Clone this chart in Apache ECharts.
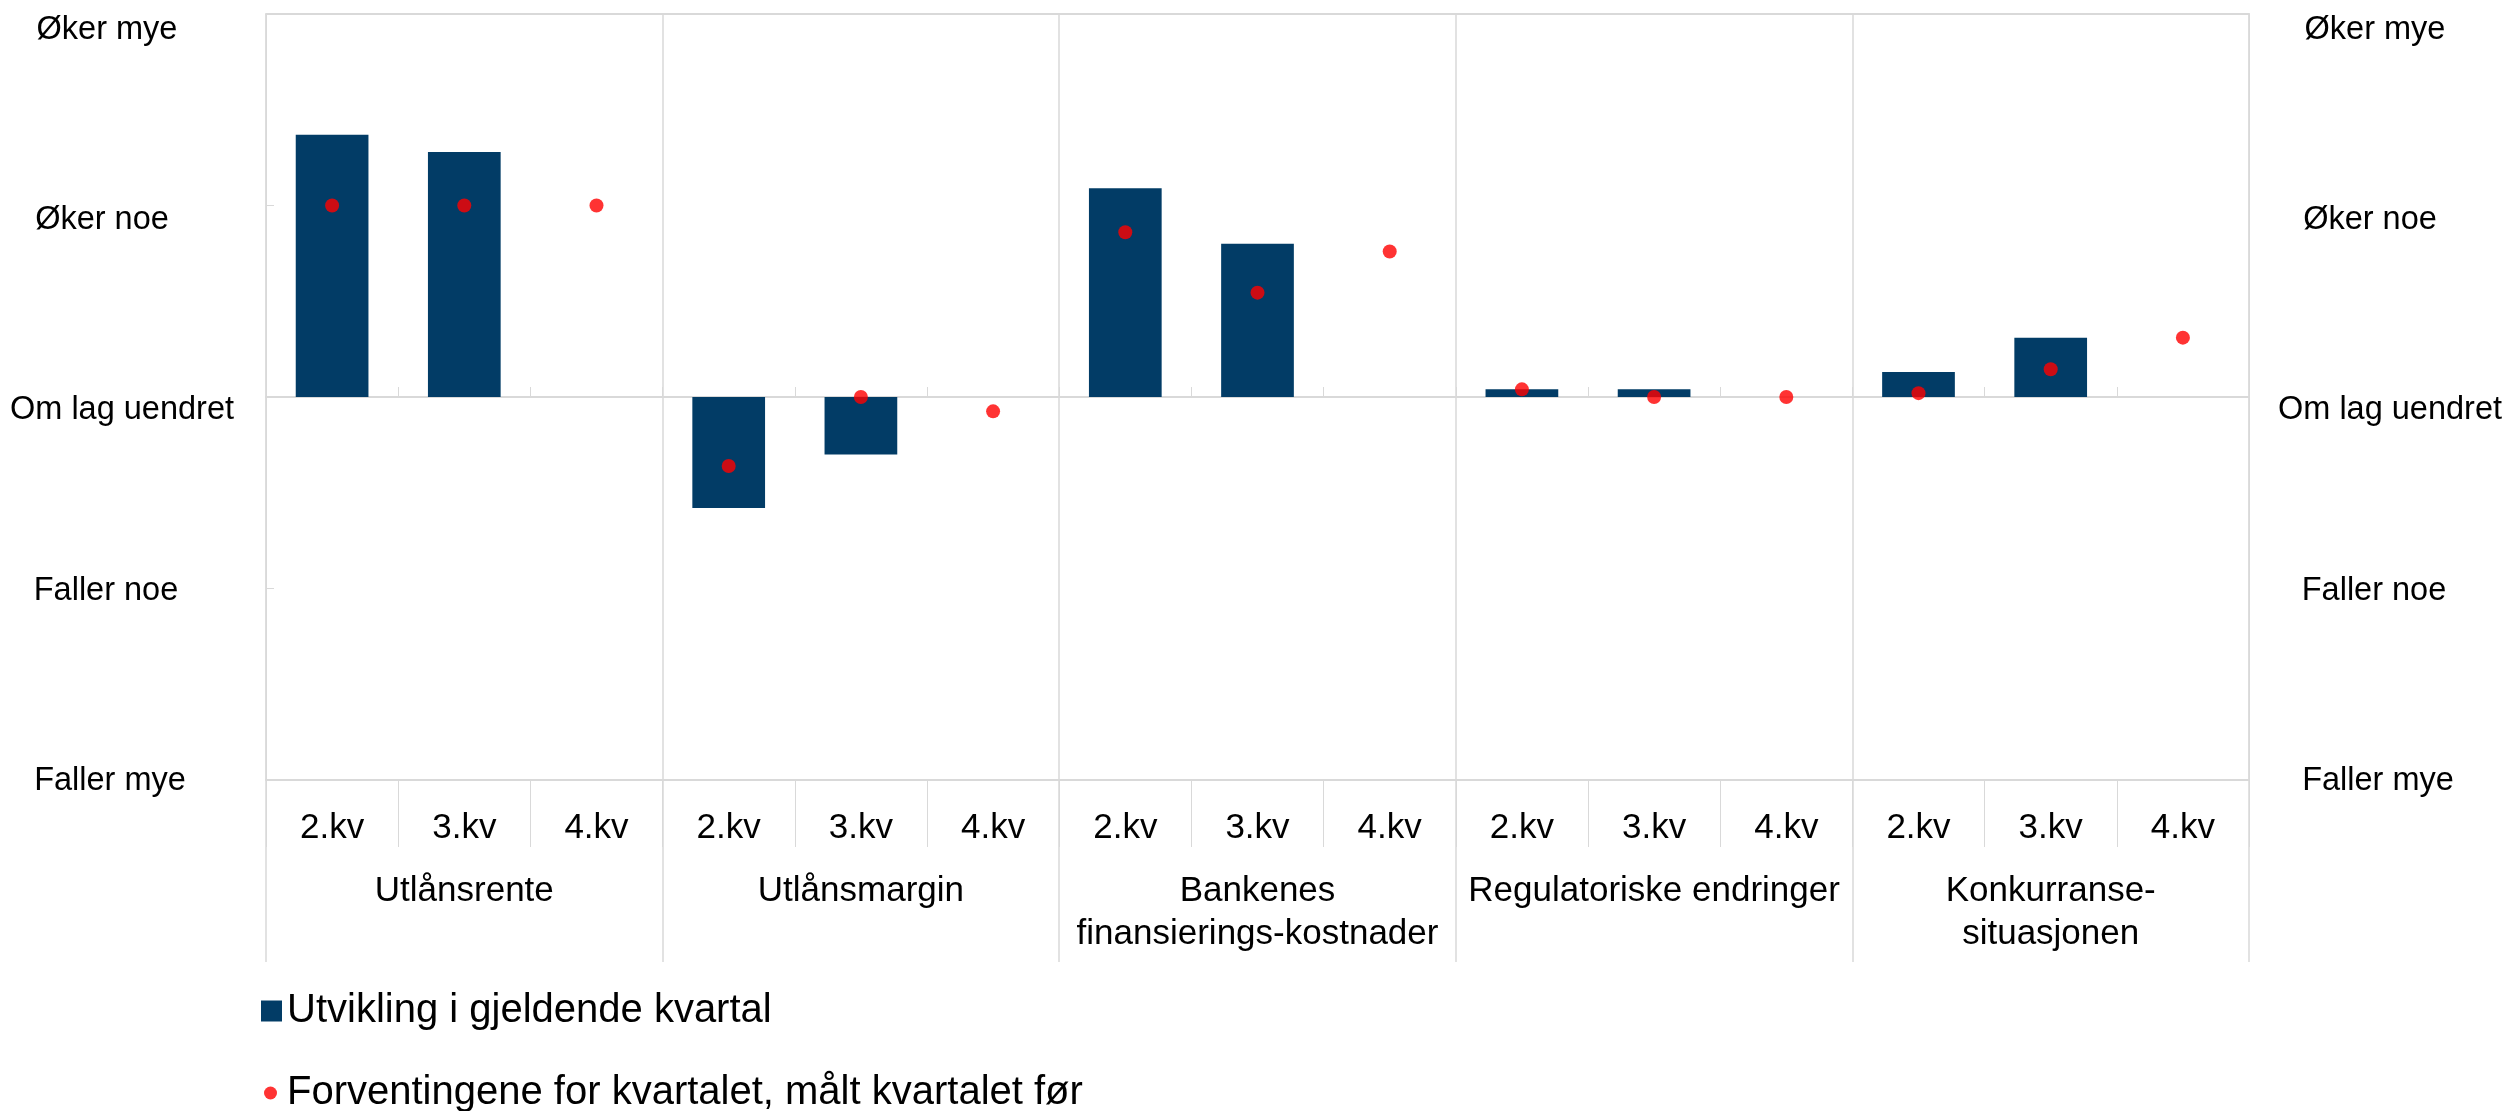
<!DOCTYPE html>
<html><head><meta charset="utf-8">
<script src="https://cdn.jsdelivr.net/npm/echarts@6/dist/echarts.min.js"></script>
<style>html,body{margin:0;padding:0;background:#fff}#c{width:2509px;height:1111px}</style>
</head><body><div id="c"></div>
<script>
// ---- data ----
const quarters = ['2.kv','3.kv','4.kv','2.kv','3.kv','4.kv','2.kv','3.kv','4.kv','2.kv','3.kv','4.kv','2.kv','3.kv','4.kv'];
const groups = ['Utlånsrente','Utlånsmargin','Bankenes\nfinansierings-kostnader','Regulatoriske endringer','Konkurranse-\nsituasjonen'];
const levelLabels = ['Faller mye','Faller noe','Om lag uendret','Øker noe','Øker mye']; // values -2..2
const seriesNames = ['Utvikling i gjeldende kvartal','Forventingene for kvartalet, målt kvartalet før'];
const currentQuarter = [1.37,1.28,null, -0.58,-0.30,null, 1.09,0.80,null, 0.04,0.04,null, 0.13,0.31,null];
const expectations  = [1.0,1.0,1.0, -0.36,0.0,-0.075, 0.86,0.545,0.76, 0.04,0.0,0.0, 0.02,0.145,0.31];

// ---- style ----
const FONT = "'Liberation Sans', Arial, sans-serif";
const GRID = '#d9d9d9';
const labelShiftY = [1,3,13,15,16];   // vertical nudge per level label
const labelShiftX = [0,-4,12,-8,-3];  // horizontal nudge per level label
const rich = {};
labelShiftY.forEach((s,i)=>{
  const dx = labelShiftX[i];
  rich['a'+i] = {padding:[2*s, dx<0?-2*dx:0, 0, dx>0?2*dx:0], fontSize:32.5, fontFamily:FONT, color:'#000'};
});
const levelFmt = v => { const i = Math.round(v)+2; return '{a'+i+'|'+levelLabels[i]+'}'; };

const chart = echarts.init(document.getElementById('c'), null, {renderer:'canvas'});
chart.setOption({
  animation:false,
  backgroundColor:'#fff',
  textStyle:{fontFamily:FONT},
  grid:{left:266, right:260, top:14, bottom:331, show:true, borderColor:GRID, borderWidth:1,
        backgroundColor:'transparent', containLabel:false, outerBoundsMode:'none'},
  legend:[
    {data:[{name:seriesNames[0], icon:'rect'}], left:261, top:991, padding:0, itemWidth:21, itemHeight:21,
     textStyle:{fontSize:40, color:'#000', fontFamily:FONT}},
    {data:[{name:seriesNames[1], icon:'circle'}], left:264, top:1073, padding:0, itemWidth:13, itemHeight:13,
     textStyle:{fontSize:40, color:'#000', fontFamily:FONT, padding:[0,0,0,5]}}
  ],
  xAxis:[
    {type:'category', data:quarters, position:'bottom',
     axisLine:{onZero:false, lineStyle:{color:GRID, width:2}},
     axisTick:{show:true, interval:0, length:67, lineStyle:{color:GRID, width:1}},
     axisLabel:{interval:0, margin:31, fontSize:35, color:'#000', fontFamily:FONT},
     splitLine:{show:false}},
    {type:'category', data:groups, position:'bottom',
     axisLine:{show:false, onZero:false},
     axisTick:{show:true, interval:0, length:182, lineStyle:{color:GRID, width:1.5}},
     axisLabel:{interval:0, margin:90, fontSize:35, lineHeight:43, color:'#000', fontFamily:FONT},
     splitLine:{show:true, interval:0, lineStyle:{color:GRID, width:1.5}}},
    {type:'category', data:quarters, position:'bottom',
     axisLine:{onZero:true, onZeroAxisIndex:0, lineStyle:{color:GRID, width:2}},
     axisTick:{show:true, inside:true, interval:0, length:10, lineStyle:{color:GRID}},
     axisLabel:{show:false}, splitLine:{show:false}},
    {type:'category', data:quarters, position:'top',
     axisLine:{onZero:false, lineStyle:{color:GRID, width:2}},
     axisTick:{show:false}, axisLabel:{show:false}, splitLine:{show:false}}
  ],
  yAxis:[
    {type:'value', min:-2, max:2, interval:1, position:'left',
     axisLine:{show:true, onZero:false, lineStyle:{color:GRID}},
     axisTick:{show:true, inside:true, length:8, lineStyle:{color:GRID}},
     splitLine:{show:false},
     axisLabel:{margin:156, align:'center', formatter:levelFmt, rich:rich}},
    {type:'value', min:-2, max:2, interval:1, position:'right',
     axisLine:{show:true, onZero:false, lineStyle:{color:GRID}},
     axisTick:{show:false},
     splitLine:{show:false},
     axisLabel:{margin:129, align:'center', formatter:levelFmt, rich:rich}}
  ],
  series:[
    {type:'bar', name:seriesNames[0], data:currentQuarter, xAxisIndex:0, yAxisIndex:0,
     barWidth:'55%', itemStyle:{color:'#023c66'}},
    {type:'scatter', name:seriesNames[1], data:expectations, xAxisIndex:0, yAxisIndex:0,
     symbol:'circle', symbolSize:14, itemStyle:{color:'#ff0000'}, z:5}
  ]
});
</script></body></html>
